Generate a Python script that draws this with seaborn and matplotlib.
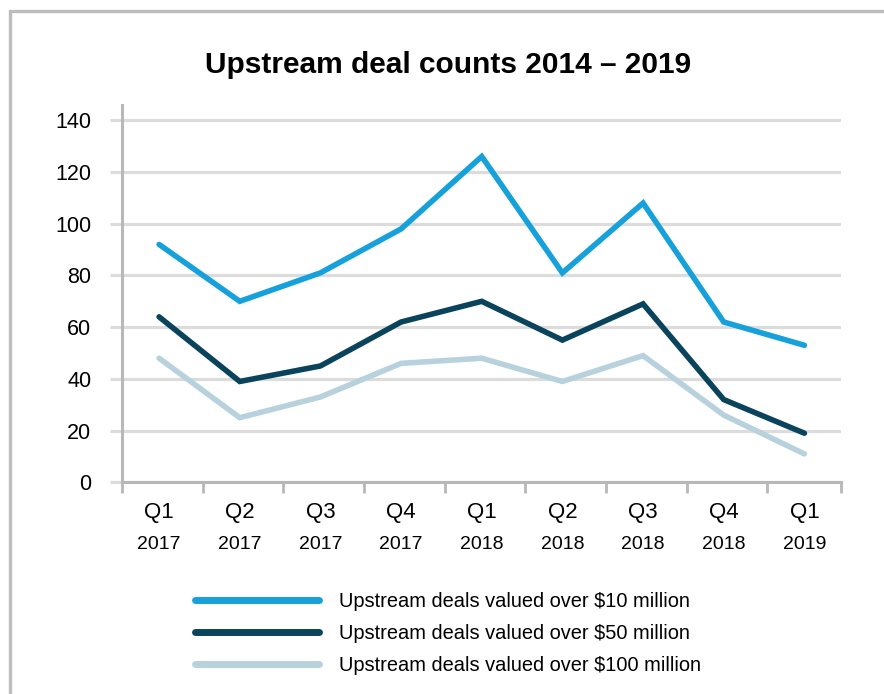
import numpy as np
import pandas as pd
import matplotlib
matplotlib.use('Agg')
import matplotlib.pyplot as plt
import seaborn as sns
from matplotlib.patches import Rectangle

# Data
quarters = ['Q1', 'Q2', 'Q3', 'Q4', 'Q1', 'Q2', 'Q3', 'Q4', 'Q1']
years = ['2017', '2017', '2017', '2017', '2018', '2018', '2018', '2018', '2019']
over_10m = [92, 70, 81, 98, 126, 81, 108, 62, 53]
over_50m = [64, 39, 45, 62, 70, 55, 69, 32, 19]
over_100m = [48, 25, 33, 46, 48, 39, 49, 26, 11]

series_names = ['Upstream deals valued over $10 million',
                'Upstream deals valued over $50 million',
                'Upstream deals valued over $100 million']
colors = ['#17a1db', '#0a435c', '#b8d2dd']

idx = np.arange(len(quarters))
df = pd.DataFrame({
    'x': np.tile(idx, 3),
    'value': over_10m + over_50m + over_100m,
    'series': np.repeat(series_names, len(quarters)),
})

sns.set_theme(style='white')
plt.rcParams['font.family'] = ['Liberation Sans', 'DejaVu Sans']
plt.rcParams['text.color'] = 'black'
plt.rcParams['xtick.color'] = 'black'
plt.rcParams['ytick.color'] = 'black'

fig = plt.figure(figsize=(8.84, 6.94), dpi=100)
ax = fig.add_axes([0.138, 0.305, 0.813, 0.544])

# outer frame (only left and top edges visible)
fig.patches.append(Rectangle((10 / 884, -0.2), 1.2, 1 - 10.5 / 694 + 0.2,
                             transform=fig.transFigure, fill=False,
                             edgecolor='#bdbdbd', linewidth=2.4, zorder=0))

sns.lineplot(data=df, x='x', y='value', hue='series', palette=colors,
             linewidth=4, ax=ax, legend=False, solid_capstyle='round',
             solid_joinstyle='miter')

ax.set_ylim(0, 146)
ax.set_xlim(-0.46, 8.45)
ax.set_yticks(range(0, 141, 20))
ax.set_yticklabels([str(v) for v in range(0, 141, 20)], fontsize=15.5)
ax.yaxis.grid(True, color='#dcdcdc', linewidth=2.3)
ax.set_axisbelow(True)

# x ticks at category boundaries, labels at category centers
ax.set_xticks(np.append(idx - 0.46, 8.45))
ax.set_xticklabels([])
ax.set_xticks(idx, minor=True)
ax.set_xticklabels(quarters, minor=True, fontsize=16)
ax.tick_params(axis='x', which='minor', length=0, pad=14.5)
ax.tick_params(axis='x', which='major', length=8, width=2, color='#b8b8b8',
               direction='out', bottom=True)
ax.tick_params(axis='y', length=9, width=2.3, color='#dcdcdc', pad=13,
               direction='out', left=True)
for i, yr in enumerate(years):
    ax.text(i, -0.165, yr, transform=ax.get_xaxis_transform(),
            ha='center', va='center', fontsize=14)

for side in ['top', 'right']:
    ax.spines[side].set_visible(False)
for side in ['left', 'bottom']:
    ax.spines[side].set_color('#b8b8b8')
    ax.spines[side].set_linewidth(2.2)
ax.set_xlabel('')
ax.set_ylabel('')

fig.text(0.507, 0.906, 'Upstream deal counts 2014 \u2013 2019', ha='center',
         va='center', fontsize=21.5, fontweight='bold')

handles = [plt.Line2D([], [], color=c, linewidth=5, solid_capstyle='round')
           for c in colors]
fig.legend(handles, series_names, loc='upper left',
           bbox_to_anchor=(0.212, 0.159), frameon=False, fontsize=14.4,
           handlelength=6.2, handletextpad=1.0, labelspacing=0.65,
           borderaxespad=0)

fig.savefig('out.png', dpi=100)
